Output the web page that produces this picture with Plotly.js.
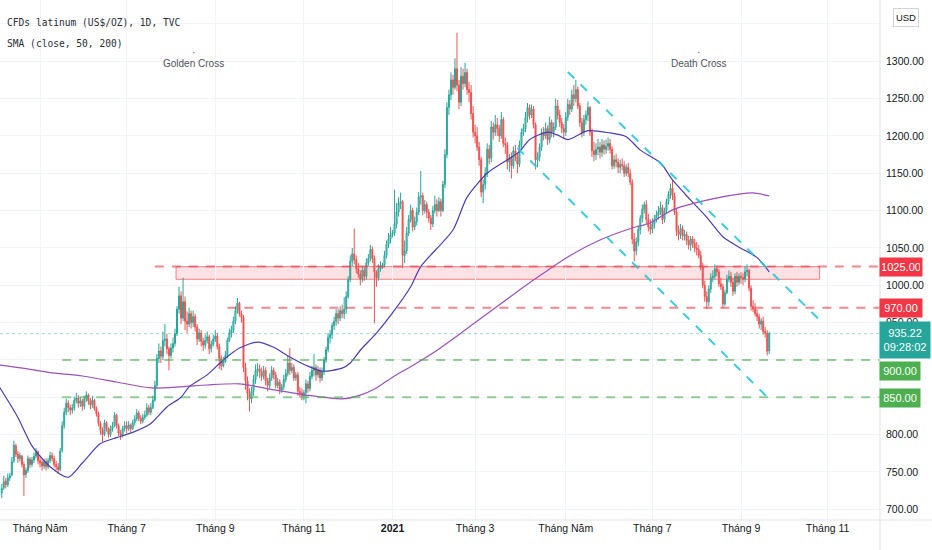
<!DOCTYPE html>
<html>
<head>
<meta charset="utf-8">
<script src="https://cdn.plot.ly/plotly-3.0.1.min.js"></script>
<style>html,body{margin:0;padding:0;background:#fff;}#chart{width:932px;height:550px;}</style>
</head>
<body>
<div id="chart"></div>
<script>
// ---- Daily OHLC, weekdays starting 2020-04-06 (one line per month) ----
const openP = [
 722,729,738,733,742,746,765,785,774,768,771,760,747,752,767,760,766,771,777,
 765,763,758,764,757,765,772,768,760,757,753,779,812,830,842,836,833,836,846,849,842,
 845,838,848,853,845,840,846,835,828,815,806,800,816,808,800,808,812,826,812,802,799,808,
 812,808,813,808,816,821,829,822,818,823,826,836,830,836,846,866,902,912,905,926,928,915,906,
 916,922,935,968,986,956,978,952,948,962,950,958,944,928,936,925,920,926,931,915,921,
 928,932,918,902,892,898,906,926,936,940,952,966,976,962,957,890,872,855,848,858,874,886,
 888,884,878,886,872,866,876,886,880,866,870,860,864,874,882,896,886,890,876,880,858,856,
 852,856,868,862,878,886,890,880,886,876,884,900,914,930,934,946,952,962,956,966,962,
 968,985,1008,1032,1042,1034,1022,1015,1008,1020,1012,1030,1036,1048,1036,1018,1010,1022,1026,1027,1040,1055,1062,
 1068,1070,1082,1098,1110,1112,1040,1046,1070,1088,1100,1078,1085,1098,1118,1120,1100,1108,1098,1090,1082,
 1100,1108,1100,1112,1100,1135,1175,1238,1255,1275,1265,1290,1268,1245,1280,1270,1285,1262,1258,1230,
 1205,1200,1185,1168,1125,1135,1150,1182,1170,1212,1205,1215,1210,1200,1222,1190,1188,1165,1170,1160,1180,1172,1162,
 1188,1205,1210,1225,1238,1228,1236,1215,1168,1172,1185,1205,1200,1210,1195,1218,1205,1212,1240,1228,1218,1210,
 1205,1225,1242,1236,1255,1250,1262,1240,1218,1205,1222,1228,1238,1205,1180,1175,1182,1185,1178,1188,1182,
 1186,1190,1182,1160,1168,1165,1158,1162,1160,1150,1158,1150,1138,1062,1046,1058,1075,1090,1102,1108,1088,1078,
 1075,1082,1088,1094,1098,1104,1088,1100,1112,1122,1130,1120,1098,1072,1068,1076,1066,1068,1060,1054,1062,1056,
 1050,1048,1040,1025,1000,985,978,995,1010,1012,1022,1018,1002,998,975,990,1008,1012,1004,992,1012,1004,
 1012,1010,1008,1018,1020,996,972,968,962,958,948,952,938,936,912
];
const highP = [
 734,745,742,748,749,770,792,788,778,776,773,764,756,772,770,770,776,782,779,
 772,768,768,768,769,777,776,772,765,762,782,818,836,848,846,840,841,851,856,853,850,
 848,852,858,855,849,852,848,838,831,818,810,820,818,810,812,817,830,828,815,806,812,818,
 818,818,815,820,826,834,832,826,828,832,842,840,842,852,872,908,922,918,938,948,935,918,922,
 930,942,972,998,992,1010,985,965,970,966,966,962,948,942,940,930,934,938,934,926,934,
 940,936,922,906,904,912,930,942,946,958,972,983,978,966,960,896,878,862,864,880,894,896,
 894,890,892,890,876,882,892,890,884,876,874,868,880,888,906,916,896,894,884,884,864,862,
 860,874,872,884,892,908,894,892,890,890,904,918,936,940,950,958,968,968,972,974,984,
 992,1012,1040,1050,1076,1040,1030,1020,1026,1024,1036,1042,1054,1052,1040,1020,1028,1032,1030,1046,1060,1070,1078,
 1074,1128,1110,1118,1124,1114,1060,1078,1094,1108,1104,1092,1104,1125,1153,1124,1114,1112,1102,1094,1106,
 1120,1115,1118,1116,1140,1182,1245,1262,1285,1282,1304,1338,1275,1292,1290,1298,1290,1272,1268,1240,
 1215,1212,1192,1172,1142,1158,1190,1188,1220,1218,1228,1224,1215,1232,1225,1198,1192,1176,1178,1186,1188,1178,1194,
 1210,1216,1232,1244,1242,1242,1240,1218,1178,1190,1210,1212,1218,1214,1226,1222,1218,1250,1248,1235,1224,1216,
 1232,1250,1248,1262,1268,1275,1266,1244,1224,1228,1234,1246,1240,1210,1192,1190,1196,1192,1196,1194,1195,
 1198,1196,1186,1174,1176,1170,1168,1170,1166,1162,1164,1156,1142,1070,1064,1080,1094,1108,1112,1114,1096,1088,
 1090,1094,1100,1106,1112,1108,1104,1116,1126,1136,1141,1124,1102,1080,1082,1080,1074,1072,1066,1066,1066,1062,
 1058,1054,1046,1030,1006,992,1000,1016,1020,1028,1026,1022,1010,1002,994,1014,1020,1018,1010,1016,1018,1016,
 1018,1016,1026,1028,1022,1000,980,976,968,962,956,958,944,940,938
];
const lowP = [
 715,726,728,730,738,744,762,770,762,764,756,718,742,749,755,757,762,768,760,
 756,752,754,752,754,762,764,756,752,748,751,776,808,826,830,826,828,832,842,836,837,
 832,834,844,840,834,836,832,824,811,800,790,798,804,796,797,804,810,808,798,793,796,804,
 802,805,803,806,812,818,818,814,815,820,824,826,826,834,844,862,896,896,900,918,908,886,902,
 910,918,932,962,948,952,940,936,944,942,944,938,920,924,918,912,915,922,908,910,918,
 924,914,888,886,890,896,902,924,930,936,948,962,958,950,884,860,846,831,842,852,868,878,
 876,872,874,866,858,862,872,874,862,862,854,856,860,870,878,880,882,872,872,852,850,846,
 846,842,856,858,874,878,872,876,870,872,880,896,910,922,928,940,946,948,952,956,955,
 962,982,1004,1026,1028,1016,1010,1000,1004,1006,1008,1026,1032,1030,949,998,1006,1018,1022,1024,1036,1050,1056,
 1064,1066,1076,1092,1102,1023,1030,1042,1066,1084,1072,1074,1080,1094,1108,1094,1096,1090,1084,1074,1078,
 1096,1092,1098,1092,1098,1130,1170,1228,1248,1255,1262,1260,1236,1240,1262,1265,1255,1245,1222,1198,
 1190,1180,1160,1118,1110,1128,1145,1162,1165,1195,1200,1200,1192,1196,1185,1176,1155,1152,1143,1156,1166,1150,1158,
 1184,1200,1205,1218,1222,1224,1210,1155,1158,1166,1180,1194,1196,1188,1190,1198,1198,1208,1222,1212,1204,1196,
 1200,1220,1228,1232,1240,1245,1236,1212,1198,1200,1215,1220,1200,1172,1166,1168,1174,1170,1172,1175,1176,
 1180,1176,1155,1156,1158,1150,1150,1154,1145,1146,1145,1134,1055,1032,1040,1052,1068,1084,1096,1082,1072,1068,
 1070,1076,1084,1088,1094,1082,1084,1096,1108,1116,1114,1094,1066,1060,1062,1060,1060,1054,1048,1046,1050,1044,
 1040,1036,1020,996,978,968,972,990,1004,1008,1012,998,994,969,972,988,1004,998,986,988,998,1000,
 1002,1000,1004,1012,992,966,964,958,952,942,940,934,930,906,908
];
const closeP = [
 728,737,733,742,745,764,786,774,768,772,760,746,752,768,760,766,771,777,765,
 762,758,764,757,765,772,768,760,757,753,778,812,830,842,836,833,836,846,849,842,845,
 838,848,853,845,840,846,835,828,815,806,800,816,808,800,808,812,826,812,802,799,808,812,
 808,813,808,816,821,829,822,818,823,826,836,830,836,846,866,902,912,905,926,928,915,906,916,
 922,935,968,986,956,978,952,948,962,950,958,944,928,936,925,920,926,931,915,921,928,
 932,918,902,892,898,906,926,936,940,952,966,976,962,957,890,872,855,848,858,874,886,888,
 884,878,886,872,866,876,886,880,866,870,860,864,874,882,896,886,890,876,880,858,856,852,
 856,868,862,878,886,890,880,886,876,884,900,914,930,934,946,952,962,956,966,962,968,
 985,1008,1032,1042,1034,1022,1015,1008,1020,1012,1030,1036,1048,1036,1018,1010,1022,1026,1027,1040,1055,1062,1068,
 1070,1082,1098,1110,1112,1040,1046,1070,1088,1100,1078,1085,1098,1118,1120,1100,1108,1098,1090,1082,1100,
 1108,1100,1112,1100,1135,1175,1238,1255,1275,1265,1290,1268,1245,1280,1270,1285,1262,1258,1230,1205,
 1200,1185,1168,1125,1135,1150,1182,1170,1212,1205,1215,1210,1200,1222,1190,1188,1165,1170,1160,1180,1172,1162,1188,
 1205,1210,1225,1238,1228,1236,1215,1168,1172,1185,1205,1200,1210,1195,1218,1205,1212,1240,1228,1218,1210,1205,
 1225,1242,1236,1255,1250,1262,1240,1218,1205,1222,1228,1238,1205,1180,1175,1182,1185,1178,1188,1182,1186,
 1190,1182,1160,1168,1165,1158,1162,1160,1150,1158,1150,1138,1062,1046,1058,1075,1090,1102,1108,1088,1078,1075,
 1082,1088,1094,1098,1104,1088,1100,1112,1122,1130,1120,1098,1072,1068,1076,1066,1068,1060,1054,1062,1056,1050,
 1048,1040,1025,1000,985,978,995,1010,1012,1022,1018,1002,998,975,990,1008,1012,1004,992,1012,1004,1012,
 1010,1008,1018,1020,996,972,968,962,958,948,952,938,936,912,935.22
];

// ---- Moving averages ----
const sma50Dates = ['2020-04-03','2020-04-16','2020-04-27','2020-05-08','2020-05-21','2020-06-01','2020-06-12','2020-06-24','2020-07-06','2020-07-17','2020-07-29','2020-08-07','2020-08-13','2020-08-26','2020-09-07','2020-09-17','2020-09-30','2020-10-12','2020-10-22','2020-11-03','2020-11-13','2020-11-27','2020-12-03','2020-12-10','2020-12-22','2021-01-01','2021-01-14','2021-01-21','2021-02-12','2021-02-23','2021-03-09','2021-03-23','2021-03-31','2021-04-07','2021-04-20','2021-04-27','2021-05-04','2021-05-18','2021-06-02','2021-06-14','2021-06-23','2021-07-07','2021-07-15','2021-07-28','2021-08-09','2021-08-19','2021-08-31','2021-09-13','2021-09-21'];
const sma50Vals = [863,823,785,757,743,762,788,796,803,815,837,850,864,880,900,916,924,917,904,893,885,889,896,913,936,963,998,1025,1074,1118,1150,1168,1179,1195,1205,1201,1195,1207,1204,1199,1181,1164,1141,1114,1091,1065,1051,1037,1018];
const sma200Dates = ['2020-04-03','2020-04-27','2020-05-08','2020-06-01','2020-06-24','2020-07-17','2020-08-07','2020-08-26','2020-09-17','2020-10-12','2020-11-03','2020-11-27','2020-12-10','2020-12-22','2021-01-01','2021-01-14','2021-02-01','2021-02-22','2021-03-31','2021-04-09','2021-05-04','2021-05-26','2021-06-17','2021-06-30','2021-07-15','2021-08-09','2021-08-31','2021-09-09','2021-09-21'];
const sma200Vals = [893,887,883,878.5,870.5,862.5,864,866.5,868,860,853,848,853,862.5,877,891,911,940,993.6,1007,1038,1060.6,1076.7,1083.4,1101,1114,1122,1123.6,1119.6];

// ---- Drawing levels / annotations ----
const resistLevels = [1025, 970];
const supportLevels = [900, 850];
const zoneLow = 1008, zoneHigh = 1025;
const lastPrice = 935.22;
const countdown = '09:28:02';
const upperTrend = {d: ['2021-05-04','2021-10-26'], v: [1285.7, 953.6]};
const lowerTrend = {d: ['2021-03-30','2021-09-20'], v: [1184, 850.4]};
const tickDates = ['2020-05-01','2020-07-01','2020-09-01','2020-11-02','2021-01-01','2021-03-01','2021-05-03','2021-07-01','2021-09-01','2021-11-01'];
const tickLabels = ['Tháng Năm','Tháng 7','Tháng 9','Tháng 11','<b>2021</b>','Tháng 3','Tháng Năm','Tháng 7','Tháng 9','Tháng 11'];
const yTicks = [700,750,800,850,900,950,1000,1050,1100,1150,1200,1250,1300,1350];
const yHiddenTicks = [850, 900, 1350]; // covered by price boxes / USD badge in the reference

function weekdayDates(start, n) {
  const out = [];
  const d = new Date(start + 'T00:00:00Z');
  while (out.length < n) {
    const wd = d.getUTCDay();
    if (wd !== 0 && wd !== 6) out.push(d.toISOString().slice(0, 10));
    d.setUTCDate(d.getUTCDate() + 1);
  }
  return out;
}
const dates = weekdayDates('2020-04-06', closeP.length);

const X0 = '2020-04-03 03:00', X1 = '2021-12-07';
const red = '#f23645', green = '#4caf50', teal = '#26a69a';

const traces = [
  {type: 'candlestick', x: dates, open: openP, high: highP, low: lowP, close: closeP,
   increasing: {line: {color: '#26a69a', width: 1}, fillcolor: 'rgba(38,166,154,0.45)'},
   decreasing: {line: {color: '#ef5350', width: 1}, fillcolor: '#ef5350'},
   whiskerwidth: 0, hoverinfo: 'skip', showlegend: false},
  {type: 'scatter', mode: 'lines', x: sma50Dates, y: sma50Vals,
   line: {color: '#4a3cb8', width: 1.2, shape: 'spline', smoothing: 0.7}, hoverinfo: 'skip', showlegend: false},
  {type: 'scatter', mode: 'lines', x: sma200Dates, y: sma200Vals,
   line: {color: '#9c4fbd', width: 1.2, shape: 'spline', smoothing: 0.7}, hoverinfo: 'skip', showlegend: false}
];

const shapes = [
  {type: 'rect', xref: 'x', yref: 'y', x0: '2020-08-04 12:00', x1: '2021-10-26', y0: zoneLow, y1: zoneHigh,
   fillcolor: 'rgba(242,54,69,0.15)', line: {color: 'rgba(242,54,69,0.6)', width: 1}, layer: 'below'},
  {type: 'line', xref: 'x', yref: 'y', x0: '2020-07-21', x1: X1, y0: resistLevels[0], y1: resistLevels[0],
   line: {color: 'rgba(242,54,69,0.6)', width: 2, dash: '9px,8px'}},
  {type: 'line', xref: 'x', yref: 'y', x0: '2020-09-09', x1: X1, y0: resistLevels[1], y1: resistLevels[1],
   line: {color: 'rgba(242,54,69,0.6)', width: 2, dash: '9px,8px'}},
  {type: 'line', xref: 'x', yref: 'y', x0: '2020-05-18', x1: X1, y0: supportLevels[0], y1: supportLevels[0],
   line: {color: 'rgba(76,175,80,0.6)', width: 2, dash: '9px,8px'}},
  {type: 'line', xref: 'x', yref: 'y', x0: '2020-05-18', x1: X1, y0: supportLevels[1], y1: supportLevels[1],
   line: {color: 'rgba(76,175,80,0.6)', width: 2, dash: '9px,8px'}},
  {type: 'line', xref: 'paper', yref: 'y', x0: 0, x1: 1, y0: lastPrice, y1: lastPrice,
   line: {color: 'rgba(38,166,154,0.45)', width: 1, dash: 'dot'}},
  {type: 'line', xref: 'x', yref: 'y', x0: upperTrend.d[0], x1: upperTrend.d[1], y0: upperTrend.v[0], y1: upperTrend.v[1],
   line: {color: 'rgba(38,198,218,0.9)', width: 2, dash: '9px,9px'}},
  {type: 'line', xref: 'x', yref: 'y', x0: lowerTrend.d[0], x1: lowerTrend.d[1], y0: lowerTrend.v[0], y1: lowerTrend.v[1],
   line: {color: 'rgba(38,198,218,0.9)', width: 2, dash: '9px,9px'}},
  {type: 'line', xref: 'paper', yref: 'paper', x0: 1, x1: 1, y0: -0.06, y1: 1,
   line: {color: '#e0e3eb', width: 1}},
  {type: 'line', xref: 'paper', yref: 'paper', x0: 0, x1: 1.06, y0: 0, y1: 0,
   line: {color: '#e0e3eb', width: 1}}
];

function priceBox(y, text, color, w, h) {
  return {xref: 'paper', yref: 'y', x: 1, xanchor: 'left', xshift: -1, y: y, yanchor: 'middle',
    text: text, showarrow: false, bgcolor: color, borderpad: 2, width: w, height: h, align: 'center',
    font: {family: 'Liberation Sans, Arial, sans-serif', size: 11, color: '#ffffff'}};
}

const annotations = [
  {xref: 'paper', yref: 'paper', x: 0, xshift: 5, xanchor: 'left', y: 1 - 22.5/520, yanchor: 'middle',
   text: 'CFDs latinum (US$/OZ), 1D, TVC', showarrow: false,
   font: {family: 'DejaVu Sans Mono, monospace', size: 9.6, color: '#2a2e39'}},
  {xref: 'paper', yref: 'paper', x: 0, xshift: 5, xanchor: 'left', y: 1 - 43/520, yanchor: 'middle',
   text: 'SMA (close, 50, 200)', showarrow: false,
   font: {family: 'DejaVu Sans Mono, monospace', size: 9.6, color: '#2a2e39'}},
  {xref: 'x', yref: 'y', x: '2020-08-17', y: 1296.4, text: 'Golden Cross', showarrow: false,
   font: {family: 'Liberation Sans, Arial, sans-serif', size: 10, color: '#50535e'}},
  {xref: 'x', yref: 'y', x: '2020-08-17', y: 1312, text: '·', showarrow: false,
   font: {family: 'Liberation Sans, Arial, sans-serif', size: 10, color: '#50535e'}},
  {xref: 'x', yref: 'y', x: '2021-08-03', y: 1296.4, text: 'Death Cross', showarrow: false,
   font: {family: 'Liberation Sans, Arial, sans-serif', size: 10, color: '#50535e'}},
  {xref: 'x', yref: 'y', x: '2021-08-03', y: 1312, text: '·', showarrow: false,
   font: {family: 'Liberation Sans, Arial, sans-serif', size: 10, color: '#50535e'}},
  priceBox(1025, '1025.00', red, 38, 14),
  priceBox(969.6, '970.00', red, 38, 14),
  priceBox(926.8, lastPrice.toFixed(2) + '<br>' + countdown, teal, 46, 32),
  priceBox(885.2, '900.00', green, 36, 14),
  priceBox(849.1, '850.00', green, 36, 14),
  {xref: 'paper', yref: 'paper', x: 1, xanchor: 'left', xshift: 13, y: 1 - 18/520, yanchor: 'middle',
   text: 'USD', showarrow: false, bgcolor: '#ffffff', bordercolor: '#d1d4dc', borderwidth: 1, borderpad: 1,
   width: 22, height: 15, font: {family: 'Liberation Sans, Arial, sans-serif', size: 9.5, color: '#131722'}}
];

const layout = {
  width: 932, height: 550,
  margin: {l: 0, r: 52, t: 0, b: 30, pad: 0},
  paper_bgcolor: '#ffffff', plot_bgcolor: '#ffffff',
  showlegend: false,
  xaxis: {type: 'date', range: [X0, X1], rangebreaks: [{bounds: ['sat', 'mon']}],
    rangeslider: {visible: false}, tickmode: 'array', tickvals: tickDates, ticktext: tickLabels,
    showgrid: true, gridcolor: '#f0f3fa', gridwidth: 1, zeroline: false, ticks: '', showline: false,
    tickfont: {family: 'Liberation Sans, Arial, sans-serif', size: 10.5, color: '#131722'}, fixedrange: true},
  yaxis: {side: 'right', range: [685.7, 1382], tickmode: 'array', tickvals: yTicks,
    ticktext: yTicks.map(v => yHiddenTicks.includes(v) ? '' : v.toFixed(2)),
    showgrid: true, gridcolor: '#f0f3fa', gridwidth: 1,
    zeroline: false, ticks: '', showline: false, ticklabelstandoff: 5,
    tickfont: {family: 'Liberation Sans, Arial, sans-serif', size: 10.5, color: '#131722'}, fixedrange: true},
  shapes: shapes,
  annotations: annotations
};

Plotly.newPlot('chart', traces, layout, {displayModeBar: false, staticPlot: true});
</script>
</body>
</html>
